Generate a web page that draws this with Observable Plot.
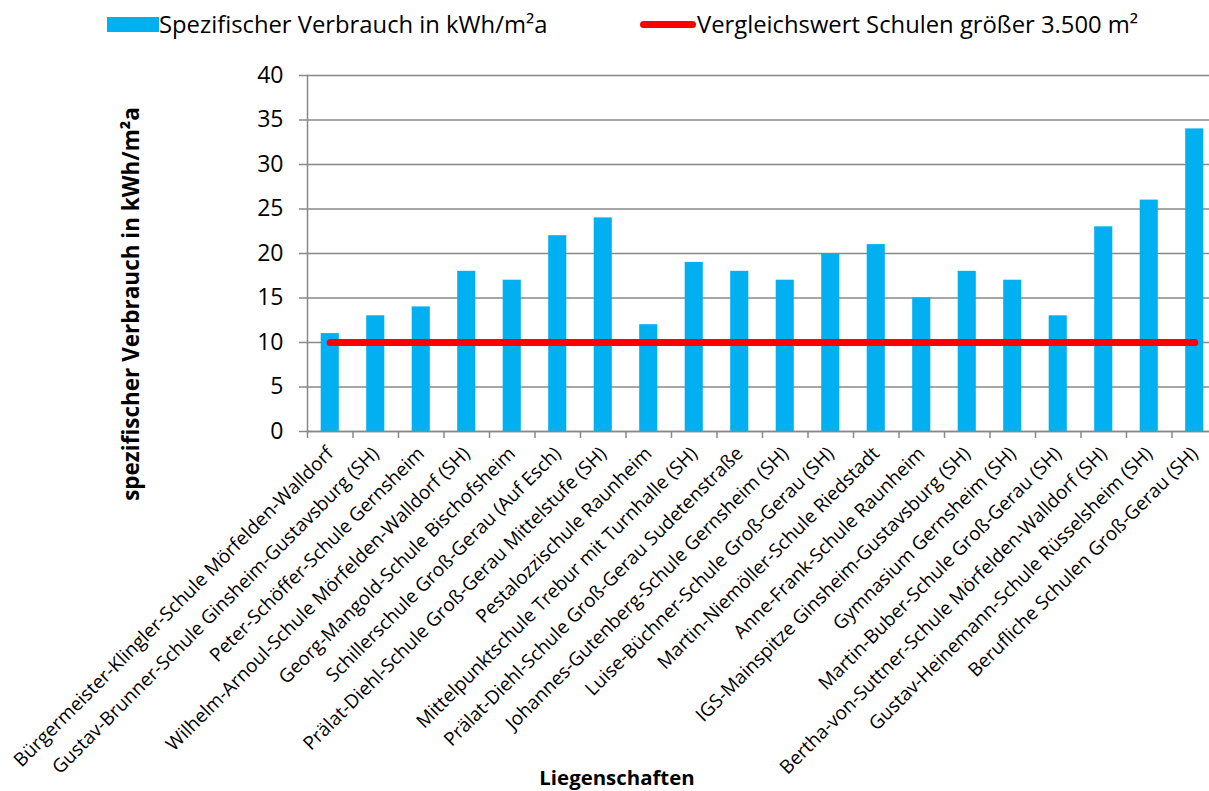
<!DOCTYPE html>
<html><head><meta charset="utf-8">
<script src="https://cdn.jsdelivr.net/npm/d3@7"></script>
<script src="https://cdn.jsdelivr.net/npm/@observablehq/plot@0.6"></script>
<style>
html,body{margin:0;padding:0;background:#fff;overflow:hidden;}
#wrap{position:relative;width:1209px;height:791px;overflow:hidden;font-family:"Open Sans", sans-serif;color:#000;}
#chart{position:absolute;left:0;top:0;}
.leg{position:absolute;top:8px;font-size:23.8px;display:flex;align-items:center;white-space:nowrap;}
.sw-bar{width:52px;height:15px;background:#00B0F0;margin-right:0px;}
.sw-line{width:56px;height:7px;background:#FF0000;border-radius:4px;margin-right:1px;}
.ytitle{position:absolute;left:130px;top:304px;transform:translate(-50%,-50%) rotate(-90deg);font-weight:bold;font-size:22.5px;white-space:nowrap;}
.xtitle{position:absolute;left:617px;top:777px;transform:translate(-50%,-50%);font-weight:bold;font-size:20.4px;white-space:nowrap;}
</style></head><body>
<div id="wrap">
<div id="chart"></div>
<div class="leg" style="left:107px"><div class="sw-bar"></div><span id="leg1"></span></div>
<div class="leg" style="left:640px"><div class="sw-line"></div><span id="leg2"></span></div>
<div class="ytitle" id="ytitle"></div>
<div class="xtitle" id="xtitle"></div>
</div>
<script>
const schools = [
  "Bürgermeister-Klingler-Schule Mörfelden-Walldorf",
  "Gustav-Brunner-Schule Ginsheim-Gustavsburg (SH)",
  "Peter-Schöffer-Schule Gernsheim",
  "Wilhelm-Arnoul-Schule Mörfelden-Walldorf (SH)",
  "Georg-Mangold-Schule Bischofsheim",
  "Schillerschule Groß-Gerau (Auf Esch)",
  "Prälat-Diehl-Schule Groß-Gerau Mittelstufe (SH)",
  "Pestalozzischule Raunheim",
  "Mittelpunktschule Trebur mit Turnhalle (SH)",
  "Prälat-Diehl-Schule Groß-Gerau Sudetenstraße",
  "Johannes-Gutenberg-Schule Gernsheim (SH)",
  "Luise-Büchner-Schule Groß-Gerau (SH)",
  "Martin-Niemöller-Schule Riedstadt",
  "Anne-Frank-Schule Raunheim",
  "IGS-Mainspitze Ginsheim-Gustavsburg (SH)",
  "Gymnasium Gernsheim (SH)",
  "Martin-Buber-Schule Groß-Gerau (SH)",
  "Bertha-von-Suttner-Schule Mörfelden-Walldorf (SH)",
  "Gustav-Heinemann-Schule Rüsselsheim (SH)",
  "Berufliche Schulen Groß-Gerau (SH)"
];
const consumption = [11, 13, 14, 18, 17, 22, 24, 12, 19, 18, 17, 20, 21, 15, 18, 17, 13, 23, 26, 34];
const referenceValues = [10, 10, 10, 10, 10, 10, 10, 10, 10, 10, 10, 10, 10, 10, 10, 10, 10, 10, 10, 10];
const yTicks = [0, 5, 10, 15, 20, 25, 30, 35, 40];
const seriesNames = ["Spezifischer Verbrauch in kWh/m²a", "Vergleichswert Schulen größer 3.500 m²"];
const yTitle = "spezifischer Verbrauch in kWh/m²a";
const xTitle = "Liegenschaften";

document.getElementById("leg1").textContent = seriesNames[0];
document.getElementById("leg2").textContent = seriesNames[1];
document.getElementById("ytitle").textContent = yTitle;
document.getElementById("xtitle").textContent = xTitle;

const data = schools.map((s, i) => ({school: s, value: consumption[i], ref: referenceValues[i]}));
const grey = "#888888";
const W = 1217, H = 791, ML = 307, MR = 0;
const step = (W - MR - ML) / schools.length;

const chart = Plot.plot({
  width: W, height: H,
  marginTop: 75, marginBottom: 360, marginLeft: ML, marginRight: MR,
  style: {fontFamily: "'Open Sans', sans-serif", background: "transparent", color: "#000", maxWidth: "none"},
  x: {domain: schools, padding: 0, round: false, label: null},
  y: {domain: [0, 40], label: null},
  marks: [
    Plot.gridY(yTicks, {stroke: grey, strokeOpacity: 1, strokeWidth: 1.5}),
    Plot.barY(data, {x: "school", y: "value", fill: "#00B0F0", insetLeft: 13.7, insetRight: 13.7}),
    Plot.lineY(data, {x: "school", y: "ref", stroke: "#FF0000", strokeWidth: 7, strokeLinecap: "round"}),
    Plot.frame({anchor: "left", stroke: grey, strokeWidth: 1.5}),
    Plot.ruleY([0], {stroke: grey, strokeWidth: 1.5}),
    Plot.axisY(yTicks, {tickSize: 8, text: null, stroke: grey, strokeWidth: 1.5}),
    Plot.axisY(yTicks, {tickSize: 8, tickPadding: 16, fontSize: 23, fill: "#000", stroke: null, label: null}),
    Plot.axisX({tickSize: 7, text: null, dx: -step / 2, stroke: grey, strokeWidth: 1.5, label: null}),
    Plot.axisX({tickSize: 0, tickRotate: -45, tickPadding: 19, fontSize: 19, fill: "#000", label: null})
  ]
});
document.getElementById("chart").appendChild(chart);
</script>
</body></html>
